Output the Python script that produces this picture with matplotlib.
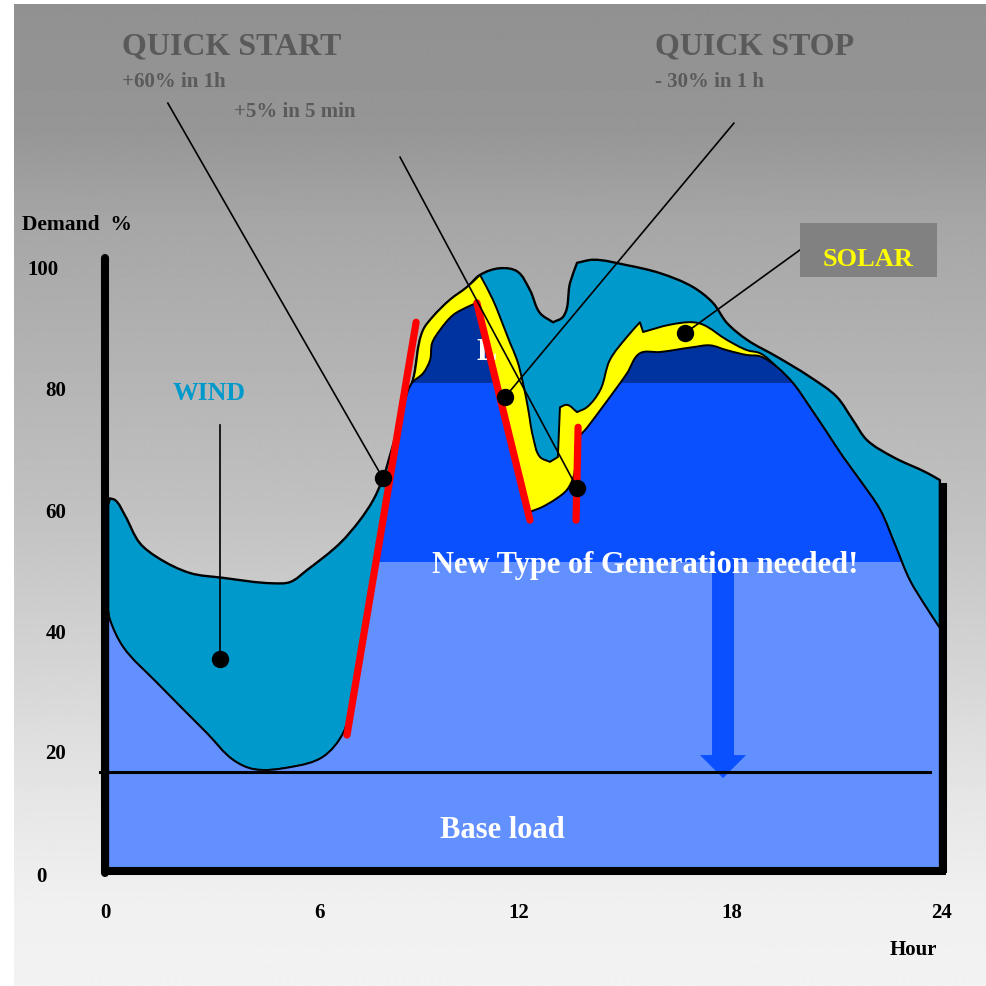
import numpy as np
import matplotlib
matplotlib.use("Agg")
import matplotlib.pyplot as plt
from matplotlib.patches import Rectangle, PathPatch
from matplotlib.path import Path

plt.rcParams['font.family'] = ['Liberation Serif', 'DejaVu Serif']
plt.rcParams['font.weight'] = 'bold'

# ---------------- data (hour, demand %) ----------------
# total demand (top of wind band)
total_h = [0.09, 0.14, 0.29, 0.57, 1.00, 1.49, 2.43, 3.38, 4.81, 5.30, 5.79, 6.73, 7.30, 7.68,
           7.96, 8.25, 8.59, 8.82, 9.11, 9.39, 9.88, 10.37, 10.74, 11.31, 11.80, 12.17, 12.46,
           12.83, 13.12, 13.32, 13.52, 13.98, 14.95, 15.89, 16.84, 17.41, 17.81, 18.39, 19.25,
           20.19, 20.96, 21.42, 21.82, 22.57, 23.54, 23.91]
total_p = [60.3, 61.4, 61.1, 58.6, 54.0, 51.7, 49.1, 48.3, 47.4, 47.6, 49.6, 54.0, 57.8, 61.1,
           64.7, 70.2, 76.8, 80.9, 89.1, 91.3, 94.1, 96.2, 98.2, 99.3, 98.8, 95.7, 91.9,
           90.4, 91.3, 96.9, 100.2, 100.7, 99.8, 98.5, 96.2, 93.6, 90.3, 87.5, 84.7,
           81.4, 78.1, 74.3, 71.0, 68.2, 65.6, 64.4]

# demand minus wind (top of solar band)
nowind_h = [0.09, 0.14, 0.52, 1.49, 2.92, 3.67, 4.24, 5.30, 6.24, 6.82, 7.07, 7.30, 7.73, 8.16,
            8.59, 8.82, 9.11, 9.39, 9.88, 10.37, 10.74, 11.11, 11.31, 11.60, 11.80, 11.97, 12.11,
            12.26, 12.46, 12.74, 12.97, 13.03, 13.23, 13.52, 13.80, 14.18, 14.46, 14.95, 15.32,
            15.41, 16.18, 16.84, 17.13, 17.81, 18.39, 18.76, 19.25, 19.70, 20.19, 20.68, 21.14,
            21.62, 22.20, 22.63, 23.05, 23.48, 23.91]
nowind_p = [42.7, 41.4, 36.9, 31.0, 22.7, 18.3, 16.8, 17.1, 18.8, 22.7, 28.2, 36.4, 51.2, 66.1,
            77.6, 80.9, 89.1, 91.3, 94.1, 96.2, 98.2, 94.1, 91.3, 87.0, 84.2, 80.4, 76.4,
            71.5, 68.2, 67.4, 68.2, 76.4, 76.8, 75.6, 76.4, 79.2, 84.2, 88.0, 90.4,
            88.8, 90.0, 90.4, 90.0, 87.5, 85.8, 85.3, 83.0, 80.4, 76.4, 72.2, 68.2,
            64.4, 59.5, 53.7, 47.9, 43.8, 40.0]

# demand minus wind and solar (residual load)
net_h = [0.09, 0.14, 0.52, 1.49, 2.92, 3.67, 4.24, 5.30, 6.24, 6.82, 7.07, 7.30, 7.73, 8.16,
         8.59, 8.79, 9.11, 9.31, 9.37, 9.59, 9.97, 10.37, 10.65, 12.11, 12.46, 12.94, 13.23,
         13.43, 13.52, 13.80, 14.18, 14.95, 15.32, 15.89, 16.84, 17.33, 17.81, 18.39, 18.76,
         19.25, 19.70, 20.19, 20.68, 21.14, 21.62, 22.20, 22.63, 23.05, 23.48, 23.91]
net_p = [42.7, 41.4, 36.9, 31.0, 22.7, 18.3, 16.8, 17.1, 18.8, 22.7, 28.2, 36.4, 51.2, 66.1,
         77.6, 80.4, 82.0, 84.2, 87.0, 89.1, 91.6, 92.9, 93.6, 59.1, 59.8, 61.4, 62.8,
         65.2, 71.0, 73.0, 75.9, 82.0, 85.3, 85.5, 86.3, 86.6, 85.8, 85.0, 84.8,
         83.0, 80.4, 76.4, 72.2, 68.2, 64.4, 59.5, 53.7, 47.9, 43.8, 40.0]

band_levels = [0, 50.9, 80.4, 112]
base_load = 16.3

# ramps (red lines): (h0, p0, h1, p1)
ramps = [(6.93, 22.4, 8.91, 90.4), (10.65, 93.6, 12.17, 57.8), (13.55, 73.1, 13.49, 57.8)]

# annotation leader lines: (text end h, p) -> (dot h, p)
leaders = [((1.80, 126.5), (7.96, 64.7)),
           ((8.45, 117.6), (13.52, 63.1)),
           ((18.01, 123.2), (11.46, 78.1)),
           ((19.90, 102.3), (16.61, 88.6)),
           ((3.29, 73.5), (3.29, 34.9))]

x_ticks = [0, 6, 12, 18, 24]
x_tick_pos = [0.0, 6.15, 11.85, 17.95, 23.95]
y_ticks = [0, 20, 40, 60, 80, 100]
y_tick_pos = [-1.0, 19.3, 39.0, 59.0, 79.1, 99.0]

# ---------------- figure ----------------
W, H = 986, 986
fig = plt.figure(figsize=(W / 100, H / 100), dpi=100, facecolor='white')
ax = fig.add_axes([0, 0, 1, 1])
X0, XS = 105, 34.917
Y0, YS = 871, 6.07
ax.set_xlim(-X0 / XS, (W - X0) / XS)
ax.set_ylim((Y0 - H) / YS, Y0 / YS)
ax.axis('off')


def hx(px):
    return (px - X0) / XS


def py(py_):
    return (Y0 - py_) / YS


def _unit(v):
    n = np.hypot(*v)
    return v / n if n > 0 else v


def area_path(hs, ps, corner_deg=55):
    """Smooth Bezier outline through the points (sharp turns kept as corners), closed to 0."""
    S = np.array([XS, YS])
    P = np.column_stack([hs, ps]).astype(float) * S     # work in screen-like units
    n = len(P)
    t_in, t_out = [], []
    for i in range(n):
        a = P[i] - P[i - 1] if i > 0 else P[i + 1] - P[i]
        b = P[i + 1] - P[i] if i < n - 1 else P[i] - P[i - 1]
        ua, ub = _unit(a), _unit(b)
        ang = np.degrees(np.arccos(np.clip(np.dot(ua, ub), -1, 1)))
        if ang > corner_deg:
            t_in.append(ua)
            t_out.append(ub)
        else:
            t = _unit(ua + ub)
            t_in.append(t)
            t_out.append(t)
    verts = [tuple(P[0] / S)]
    codes = [Path.MOVETO]
    for i in range(n - 1):
        L = np.hypot(*(P[i + 1] - P[i])) / 3.0
        c1 = P[i] + t_out[i] * L
        c2 = P[i + 1] - t_in[i + 1] * L
        verts += [tuple(c1 / S), tuple(c2 / S), tuple(P[i + 1] / S)]
        codes += [Path.CURVE4] * 3
    verts += [(hs[-1], 0), (hs[0], 0), (hs[0], ps[0])]
    codes += [Path.LINETO, Path.LINETO, Path.CLOSEPOLY]
    return Path(verts, codes)


# gradient background
rows = np.arange(4, 987)
vals = np.interp(rows, [4, 130, 220, 500, 800, 900, 986], [145, 150, 166, 192, 230, 240, 242])
grad = np.repeat(vals[:, None], 2, axis=1)
ax.imshow(grad, cmap='gray', vmin=0, vmax=255, aspect='auto', interpolation='bilinear',
          extent=[hx(14), hx(986), py(986), py(4)], zorder=0)

CYAN = '#0099CC'
YEL = '#FFFF00'
LIGHT = '#6390FF'
MED = '#0B50FF'
DARK = '#0033A0'
GREY_TXT = '#5A5A5A'

# wind band (fill under total demand)
ax.add_patch(PathPatch(area_path(total_h, total_p), fc=CYAN, ec='black', lw=1.7, zorder=2,
                       joinstyle='round'))
# solar band (fill under demand minus wind)
ax.add_patch(PathPatch(area_path(nowind_h, nowind_p), fc=YEL, ec='black', lw=1.4, zorder=3,
                       joinstyle='round'))
# residual load with generation bands
net_patch = PathPatch(area_path(net_h, net_p), fc='none', ec='black', lw=1.4, zorder=5,
                      joinstyle='round')
ax.add_patch(net_patch)
for lo, hi, col in zip(band_levels[:-1], band_levels[1:], [LIGHT, MED, DARK]):
    r = Rectangle((0, lo), 24, hi - lo, fc=col, ec='none', zorder=4)
    ax.add_patch(r)
    r.set_clip_path(net_patch)

# partly hidden label
ax.text(hx(487), py(352), 'L', color='white', fontsize=22, ha='center', va='center', zorder=4.5)

# arrow
ax.arrow(17.70, band_levels[1], 0, base_load - 1.0 - band_levels[1], width=0.63,
         head_width=1.32, head_length=3.8, length_includes_head=True,
         fc=MED, ec='none', zorder=5)

# base load line
ax.plot([-0.14, 23.63], [base_load, base_load], color='black', lw=2.2, zorder=6)

# red ramps
for h0, p0, h1, p1 in ramps:
    ax.plot([h0, h1], [p0, p1], color='#FF0000', lw=5.2, solid_capstyle='round', zorder=7)

# leader lines and dots
for (a, b) in leaders:
    ax.plot([a[0], b[0]], [a[1], b[1]], color='black', lw=1.2, zorder=8)
    ax.plot([b[0]], [b[1]], 'o', color='black', ms=11.5, zorder=9)

# axes lines
ax.plot([0, 0], [-0.3, 101.0], color='black', lw=5.8, solid_capstyle='round', zorder=10)
ax.plot([24.0, 24.0], [-0.3, 63.9], color='black', lw=5.8, solid_capstyle='butt', zorder=10)
ax.plot([-0.1, 24.1], [0, 0], color='black', lw=5.8, solid_capstyle='butt', zorder=10)

# SOLAR box
ax.add_patch(Rectangle((hx(800), py(277)), hx(937) - hx(800), py(223) - py(277),
                       fc='#818181', ec='none', zorder=8))
ax.text(hx(868), py(260), 'SOLAR', color=YEL, fontsize=19, ha='center', va='center', zorder=11)

# texts
ax.text(hx(122), py(47), 'QUICK START', color=GREY_TXT, fontsize=23, ha='left', va='center', zorder=11)
ax.text(hx(122), py(82), '+60% in 1h', color=GREY_TXT, fontsize=15, ha='left', va='center', zorder=11)
ax.text(hx(234), py(112), '+5% in 5 min', color=GREY_TXT, fontsize=15, ha='left', va='center', zorder=11)
ax.text(hx(655), py(47), 'QUICK STOP', color=GREY_TXT, fontsize=23, ha='left', va='center', zorder=11)
ax.text(hx(655), py(82), '- 30% in 1 h', color=GREY_TXT, fontsize=15, ha='left', va='center', zorder=11)
ax.text(hx(22), py(225), 'Demand  %', color='black', fontsize=15.5, ha='left', va='center', zorder=11)
ax.text(hx(209), py(394), 'WIND', color=CYAN, fontsize=18.5, ha='center', va='center', zorder=11)
ax.text(hx(432), py(566), 'New Type of Generation needed!', color='white', fontsize=22,
        ha='left', va='center', zorder=11)
ax.text(hx(502), py(830), 'Base load', color='white', fontsize=22, ha='center', va='center', zorder=11)

for v, p in zip(y_ticks, y_tick_pos):
    xc = hx(43) if v == 100 else (hx(41) if v == 0 else hx(56))
    ax.text(xc, p, str(v), color='black', fontsize=15, ha='center', va='center', zorder=11)
for v, h in zip(x_ticks, x_tick_pos):
    ax.text(h, py(913), str(v), color='black', fontsize=15, ha='center', va='center', zorder=11)
ax.text(hx(913), py(950), 'Hour', color='black', fontsize=15, ha='center', va='center', zorder=11)

fig.savefig('out.png', dpi=100, facecolor='white')
